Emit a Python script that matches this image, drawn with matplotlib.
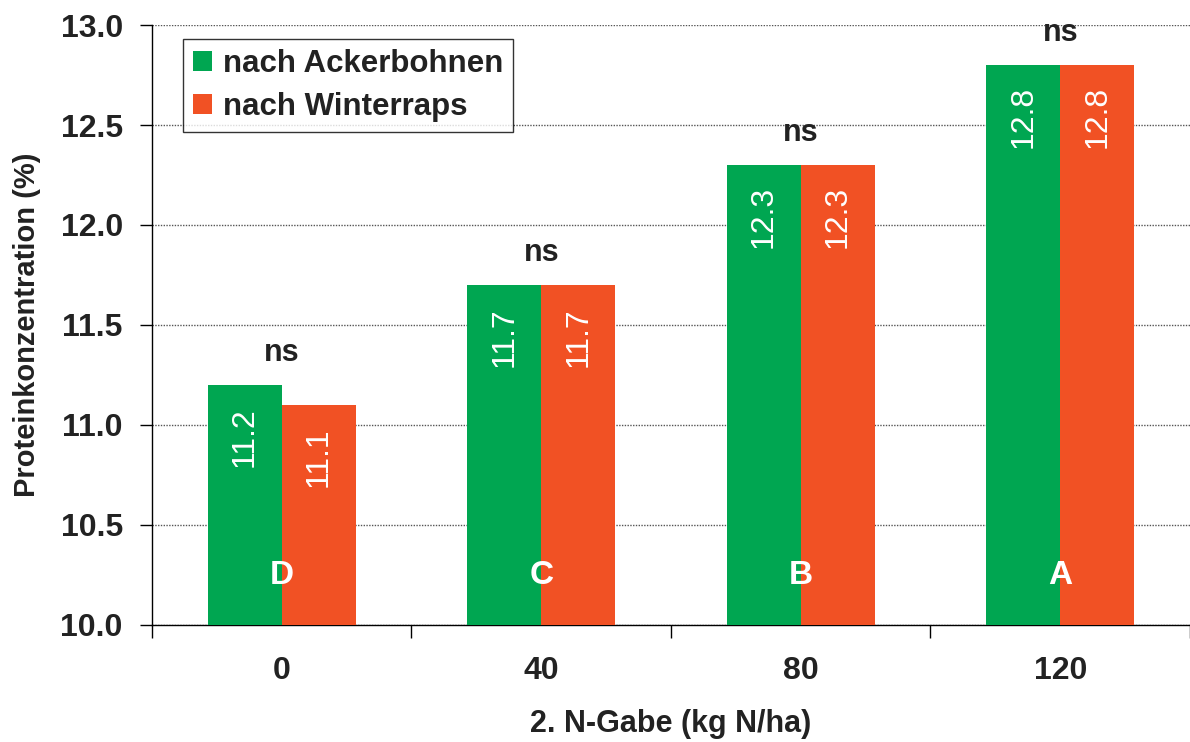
import matplotlib.pyplot as plt
import numpy as np

plt.rcParams['font.family'] = ['Liberation Sans', 'DejaVu Sans']

# data
categories = ['0', '40', '80', '120']
ackerbohnen = [11.2, 11.7, 12.3, 12.8]
winterraps = [11.1, 11.7, 12.3, 12.8]
letters = ['D', 'C', 'B', 'A']
signif = ['ns', 'ns', 'ns', 'ns']
series_names = ['nach Ackerbohnen', 'nach Winterraps']

green = '#00A651'
orange = '#F15124'
dark = '#222222'

fig = plt.figure(figsize=(11.9, 7.42), dpi=100)
ax = fig.add_axes([0.1277, 0.1577, 0.8723, 0.8086])

x = np.arange(len(categories))
w = 0.285
ax.bar(x - w / 2, np.array(ackerbohnen) - 10, w, bottom=10, color=green,
       label=series_names[0], zorder=3)
ax.bar(x + w / 2, np.array(winterraps) - 10, w, bottom=10, color=orange,
       label=series_names[1], zorder=3)

# value labels inside bars
for i in range(len(categories)):
    for dx, val in ((-w / 2, ackerbohnen[i]), (w / 2, winterraps[i])):
        ax.text(x[i] + dx, val - 0.26, f'{val:.1f}', rotation=90,
                ha='center', va='center', color='white', fontsize=23,
                zorder=4)
    ax.text(x[i], 10.245, letters[i], ha='center', va='center',
            color='white', fontsize=24, fontweight='bold', zorder=4)
    top = max(ackerbohnen[i], winterraps[i])
    ax.text(x[i], top + 0.16, signif[i], ha='center', va='center',
            color=dark, fontsize=22, fontweight='bold', zorder=4)

ax.set_ylim(10, 13)
ax.set_xlim(-0.5, 3.49)
ax.set_yticks(np.arange(10, 13.01, 0.5))
ax.set_yticklabels([f'{v:.1f}' for v in np.arange(10, 13.01, 0.5)],
                   fontsize=23, fontweight='bold', color=dark)
ax.yaxis.grid(True, linestyle=(0, (1, 1)), color='#555555', linewidth=1,
              zorder=0)
ax.tick_params(axis='y', direction='out', length=9, width=1, pad=12)

# boundaries carry tick marks, category centers carry labels
ax.set_xticks(np.arange(-0.5, 3.6, 1))
ax.set_xticklabels([])
ax.set_xticks(x, minor=True)
ax.set_xticklabels(categories, minor=True, fontsize=23, fontweight='bold',
                   color=dark)
ax.tick_params(axis='x', which='major', direction='out', length=9, width=1)
ax.tick_params(axis='x', which='minor', length=0, pad=22)

for s in ['top', 'right']:
    ax.spines[s].set_visible(False)
ax.spines['left'].set_linewidth(1)
ax.spines['bottom'].set_linewidth(1)

ax.set_ylabel('Proteinkonzentration (%)', fontsize=21, fontweight='bold',
              color=dark, labelpad=14)
ax.set_xlabel('2. N-Gabe (kg N/ha)', fontsize=22, fontweight='bold',
              color=dark, labelpad=17)

leg = ax.legend(loc='upper left', bbox_to_anchor=(0.03, 0.977),
                prop={'weight': 'bold', 'size': 22.5},
                frameon=True, fancybox=False, edgecolor='black',
                handlelength=0.6, handleheight=0.6, handletextpad=0.35,
                borderpad=0.32, labelspacing=0.42, borderaxespad=0)
leg.get_frame().set_linewidth(1)
leg.set_zorder(5)
for t in leg.get_texts():
    t.set_color(dark)

fig.savefig('out.png', dpi=100)
